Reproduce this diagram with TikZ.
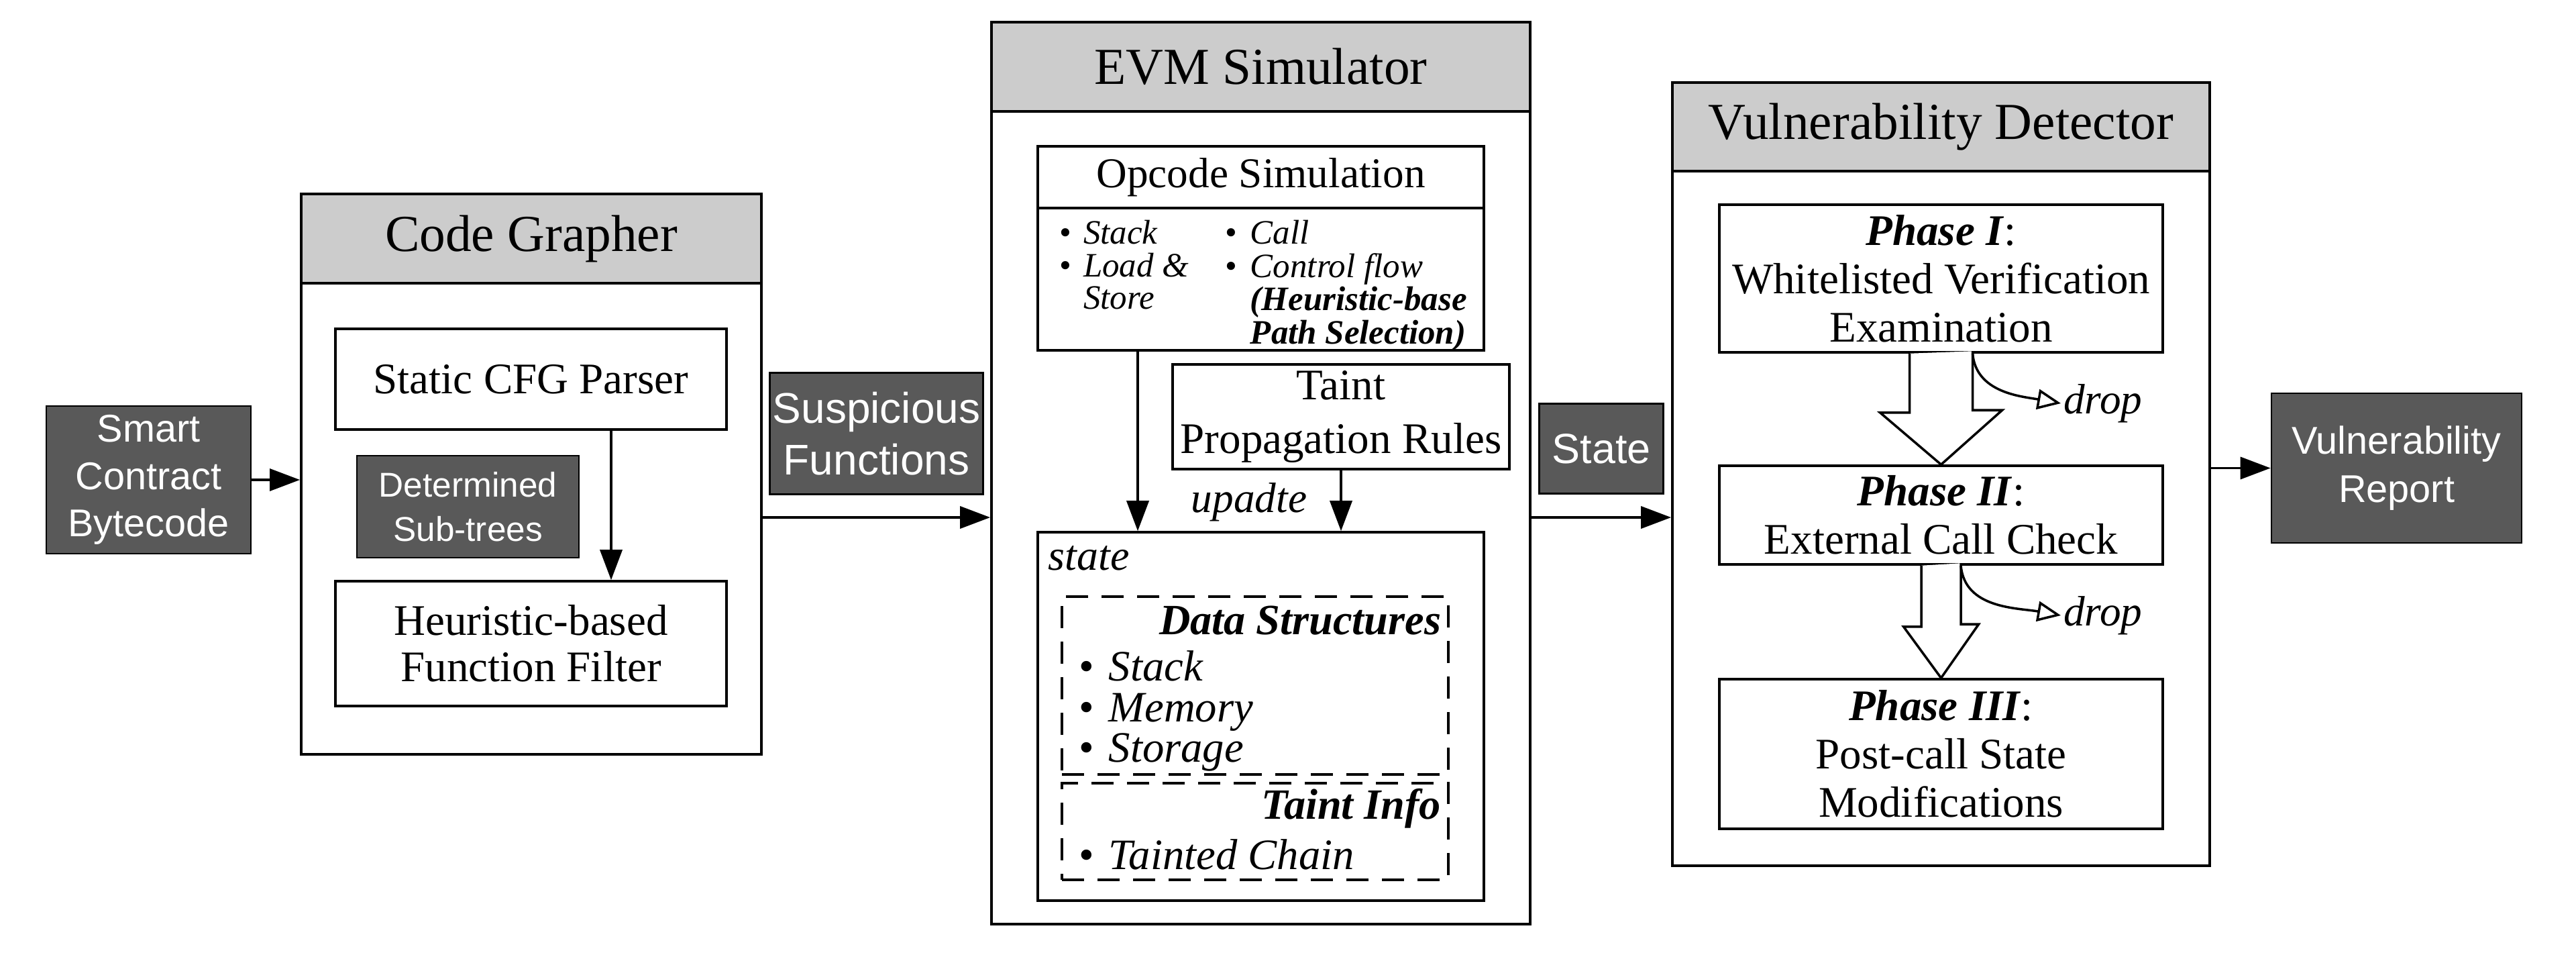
\documentclass[tikz,border=0pt]{standalone}
\usepackage{fontspec}
\setmainfont{Liberation Serif}
\setsansfont{Liberation Sans}
\usetikzlibrary{arrows.meta,positioning}

\begin{document}
\begin{tikzpicture}[
  outer/.style={draw, line width=1.1pt, inner sep=0pt},
  title/.style={draw, fill=black!20, line width=1.1pt, font=\fontsize{22}{24}\selectfont},
  inbox/.style={draw, line width=1pt, align=center, inner sep=2pt, font=\fontsize{18.5}{20.5}\selectfont},
  darkbox/.style={draw, line width=0.8pt, fill=black!65, text=white, align=center, inner sep=1pt, font=\sffamily\fontsize{16.4}{20}\selectfont},
  dashbox/.style={draw, line width=1pt, dash pattern=on 3.3mm off 2mm, inner sep=0pt},
  arr/.style={-{Triangle[length=4.5mm,width=3.3mm]}, line width=1pt},
  hollow/.style={draw, fill=white, line width=1pt, line join=miter},
  droparr/.style={-{Triangle[open,length=3.5mm,width=3mm]}, line width=1pt}
]
\useasboundingbox (0,0) rectangle (38.4,14.25);

% input
\node[darkbox, minimum width=3.05cm, minimum height=2.20cm] (sc) at (2.215,7.10) {Smart\\Contract\\Bytecode};

% code grapher
\node[outer, minimum width=6.86cm, minimum height=8.35cm] (cg) at (7.92,7.185) {};
\node[title, minimum width=6.86cm, minimum height=1.33cm, anchor=north] (cgh) at (cg.north) {Code Grapher};
\node[inbox, minimum width=5.83cm, minimum height=1.50cm] (cfg) at (7.915,8.60) {Static CFG Parser};
\node[darkbox, minimum width=3.31cm, minimum height=1.52cm, font=\sffamily\fontsize{14.6}{18.8}\selectfont] (sub) at (6.975,6.70) {Determined\\Sub-trees};
\node[inbox, minimum width=5.83cm, minimum height=1.86cm, font=\fontsize{18.5}{19.6}\selectfont] (filt) at (7.915,4.66) {Heuristic-based\\Function Filter};

% evm simulator
\node[outer, minimum width=8.03cm, minimum height=13.44cm] (evm) at (18.795,7.20) {};
\node[title, minimum width=8.03cm, minimum height=1.33cm, anchor=north] (evmh) at (evm.north) {EVM Simulator};
\node[inbox, outer sep=0pt, minimum width=6.65cm, minimum height=0.92cm, font=\fontsize{18}{20}\selectfont] (opct) at (18.795,11.61) {Opcode Simulation};
\node[inbox, outer sep=0pt, minimum width=6.65cm, minimum height=2.12cm, anchor=north] (opcb) at (opct.south) {};
\node[anchor=north west, inner sep=0pt, font=\fontsize{14.5}{13.6}\selectfont] (opl) at ([xshift=3.2mm,yshift=-1.7mm]opcb.north west)
  {\begin{tabular}{@{}l@{\hspace{5pt}}l@{}}\textbullet & \textit{Stack}\\ \textbullet & \textit{Load \&}\\ & \textit{Store}\end{tabular}};
\node[anchor=north west, inner sep=0pt, font=\fontsize{14.5}{13.6}\selectfont] (opr) at ([xshift=27.9mm,yshift=-1.7mm]opcb.north west)
  {\begin{tabular}{@{}l@{\hspace{5.5pt}}l@{}}\textbullet & \textit{Call}\\ \textbullet & \textit{Control flow}\\ & \textbf{\textit{(Heuristic-base}}\\ & \textbf{\textit{Path Selection)}}\end{tabular}};
\node[inbox, minimum width=5.02cm, minimum height=1.56cm, font=\fontsize{18.5}{22.5}\selectfont] (taint) at (19.99,8.04) {Taint\\Propagation Rules};
\node[font=\fontsize{18}{20}\selectfont] (upd) at (18.62,6.77) {\textit{upadte}};
\node[outer, line width=1pt, minimum width=6.65cm, minimum height=5.49cm] (stbox) at (18.795,3.575) {};
\node[anchor=west, inner sep=0pt, font=\fontsize{18.2}{20}\selectfont] (stl) at (15.62,5.93) {\textit{state}};
\node[dashbox, minimum width=5.76cm, minimum height=2.65cm] (ds) at (18.71,4.035) {};
\node[anchor=east, inner sep=0pt, font=\fontsize{18.3}{20}\selectfont] (dst) at ([xshift=-1.2mm,yshift=-3.7mm]ds.north east) {\textbf{\textit{Data Structures}}};
\node[anchor=north west, inner sep=0pt, font=\fontsize{18.4}{17}\selectfont] (dsl) at ([xshift=2.7mm,yshift=-8.2mm]ds.north west)
  {\begin{tabular}{@{}l@{\hspace{6pt}}l@{}}\textbullet & \textit{Stack}\\ \textbullet & \textit{Memory}\\ \textbullet & \textit{Storage}\end{tabular}};
\node[dashbox, minimum width=5.76cm, minimum height=1.44cm] (ti) at (18.71,1.86) {};
\node[anchor=east, inner sep=0pt, font=\fontsize{18.3}{20}\selectfont] (tit) at ([xshift=-1.2mm,yshift=-3.9mm]ti.north east) {\textbf{\textit{Taint Info}}};
\node[anchor=north west, inner sep=0pt, font=\fontsize{18.4}{17}\selectfont] (til) at ([xshift=2.7mm,yshift=-8.5mm]ti.north west)
  {\begin{tabular}{@{}l@{\hspace{6pt}}l@{}}\textbullet & \textit{Tainted Chain}\end{tabular}};

% vulnerability detector
\node[outer, minimum width=8.01cm, minimum height=11.67cm] (vd) at (28.935,7.185) {};
\node[title, minimum width=8.01cm, minimum height=1.32cm, anchor=north] (vdh) at (vd.north) {Vulnerability Detector};
\node[inbox, minimum width=6.61cm, minimum height=2.20cm] (p1) at (28.935,10.10) {\textbf{\textit{Phase I}}:\\Whitelisted Verification\\Examination};
\node[inbox, minimum width=6.61cm, minimum height=1.47cm] (p2) at (28.935,6.575) {\textbf{\textit{Phase II}}:\\External Call Check};
\node[inbox, minimum width=6.61cm, minimum height=2.23cm] (p3) at (28.935,3.015) {\textbf{\textit{Phase III}}:\\Post-call State\\Modifications};
\node[anchor=west, inner sep=1pt, font=\fontsize{18}{20}\selectfont] (d1) at (30.72,8.24) {\textit{drop}};
\node[anchor=west, inner sep=1pt, font=\fontsize{18}{20}\selectfont] (d2) at (30.72,5.08) {\textit{drop}};

% output
\node[darkbox, minimum width=3.73cm, minimum height=2.23cm, font=\sffamily\fontsize{16.4}{20.7}\selectfont] (vr) at (35.725,7.275) {Vulnerability\\Report};

% connectors
\draw[arr] (sc.east) -- (sc.east -| cg.west);
\draw[arr] ([xshift=11.95mm]cfg.south) -- ([xshift=11.95mm]filt.north);
\draw[arr] (cg.east |- 0,6.54) -- node[darkbox, above=3.3mm, minimum width=3.18cm, minimum height=1.81cm, font=\sffamily\fontsize{18.2}{22}\selectfont] (susp) {Suspicious\\Functions} (evm.west |- 0,6.54);
\draw[arr] ([xshift=-18.35mm]opcb.south) -- ([xshift=-18.35mm]opcb.south |- stbox.north);
\draw[arr] (taint.south) -- (taint.south |- stbox.north);
\draw[arr] (evm.east |- 0,6.54) -- node[darkbox, above=3.4mm, minimum width=1.85cm, minimum height=1.34cm, font=\sffamily\fontsize{17.9}{20}\selectfont] (stt) {State} (vd.west |- 0,6.54);
\draw[arr] (vr.west -| vd.east) -- (vr.west);
\draw[hollow] (p1.south) ++(-0.47,0) -- ++(0,-0.88) -- ++(-0.44,0) -- (p2.north) -- ++(0.91,0.81) -- ++(-0.44,0) -- ++(0,0.88);
\draw[hollow] (p2.south) ++(-0.295,0) -- ++(0,-0.91) -- ++(-0.265,0) -- (p3.north) -- ++(0.56,0.80) -- ++(-0.265,0) -- ++(0,0.91);
\draw[droparr] ([xshift=4.7mm]p1.south) to[out=-85,in=170] (d1.west);
\draw[droparr] ([xshift=2.95mm]p2.south) to[out=-85,in=170] (d2.west);
\end{tikzpicture}
\end{document}
